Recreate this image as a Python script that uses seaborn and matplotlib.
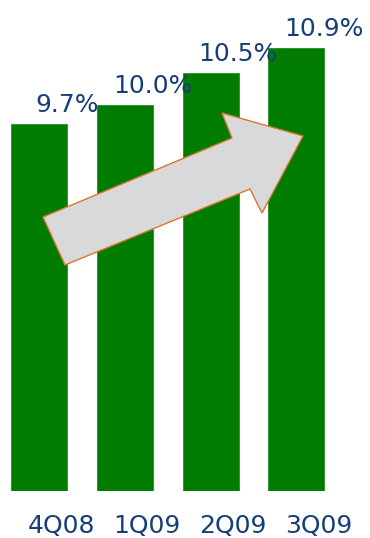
import matplotlib
matplotlib.use("Agg")
import matplotlib.pyplot as plt
from matplotlib.patches import Polygon
import seaborn as sns
import pandas as pd

categories = ["4Q08", "1Q09", "2Q09", "3Q09"]
values = [9.7, 10.0, 10.5, 10.9]
labels = ["9.7%", "10.0%", "10.5%", "10.9%"]

sns.set_theme(style="white")
plt.rcParams["font.family"] = ["DejaVu Sans"]

W, H = 370, 538
fig = plt.figure(figsize=(W / 100, H / 100), dpi=100)
ax = fig.add_axes([0, (H - 491) / H, 1, 491 / H])

df = pd.DataFrame({"cat": categories, "val": values})
sns.barplot(data=df, x="cat", y="val", color="#007c00", saturation=1,
            width=0.676, ax=ax)

ax.set_xlim(-0.4545, 3.858)
ax.set_ylim(3.889, 11.642)
ax.axis("off")

navy = "#163f7a"
for i, (v, lab) in enumerate(zip(values, labels)):
    ax.annotate(lab, (i, v), xytext=(20, 8), textcoords="offset points",
                ha="center", va="baseline", fontsize=18, color=navy)
    ax.annotate(categories[i], (i, 3.889), xytext=(16, -30),
                textcoords="offset points", ha="center", va="baseline",
                fontsize=18, color=navy, annotation_clip=False)

# decorative arrow (figure pixel coordinates)
pts = [(65, 265), (43, 217), (232, 138), (222, 113), (303, 136),
       (262, 213), (250, 189)]
fpts = [(x / W, 1 - y / H) for x, y in pts]
arrow = Polygon(fpts, closed=True, transform=fig.transFigure,
                facecolor="#d9d9d9", edgecolor="#d9762e", linewidth=1.0,
                zorder=5)
fig.patches.append(arrow)

fig.savefig("out.png", dpi=100, facecolor="white")
